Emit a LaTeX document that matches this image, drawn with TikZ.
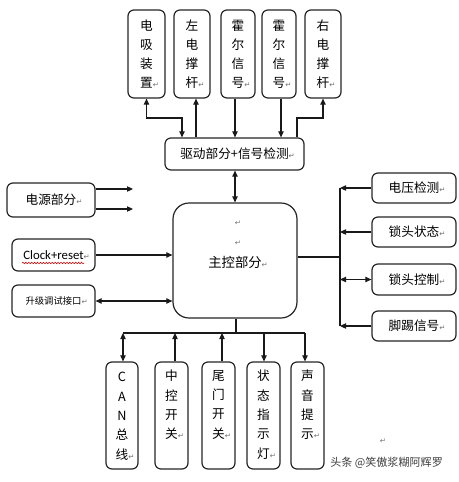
\documentclass[tikz,border=0pt]{standalone}
\usepackage{fontspec}
\setmainfont{Noto Sans CJK SC}
\newfontfamily\djv{DejaVu Sans}
\newfontfamily\carl{Carlito}
\usetikzlibrary{arrows.meta,decorations.pathmorphing}
\newcommand\retmark{\textcolor{black!55}{\djv\fontsize{5.5}{5.5}\selectfont ↵}}
\newcommand\rt{\rlap{\retmark}}
\begin{document}
\begin{tikzpicture}[x=0.75pt,y=-0.75pt,
  box/.style={draw=black!85, line width=0.9pt, rounded corners=4.5pt, inner sep=0pt,
    font=\fontsize{9.5}{14.25}\selectfont, align=center},
  txt/.style={inner sep=0pt, font=\fontsize{9.5}{14.5}\selectfont, align=center},
  conn/.style={draw=black!90, line width=0.8pt},
  arr/.style={conn, -{Triangle[length=4.5pt,width=4pt]}},
  darr/.style={conn, {Triangle[length=4.5pt,width=4pt]}-{Triangle[length=4.5pt,width=4pt]}}]
\useasboundingbox (0,0) rectangle (459,482);
\fill[white] (0,0) rectangle (459,482);

% top boxes
\node[box, minimum width=27.75pt, minimum height=66pt] (t1) at (146.5,54) {电\\吸\\装\\置\rt};
\node[box, minimum width=27pt, minimum height=66pt] (t2) at (192,54) {左\\电\\撑\\杆\rt};
\node[box, minimum width=25.5pt, minimum height=66pt] (t3) at (238,54) {霍\\尔\\信\\号\rt};
\node[box, minimum width=25.5pt, minimum height=66pt] (t4) at (279,54) {霍\\尔\\信\\号\rt};
\node[box, minimum width=27pt, minimum height=66pt] (t5) at (323,54) {右\\电\\撑\\杆\rt};

% driver
\node[box, minimum width=104.25pt, minimum height=24pt] (drv) at (234.5,154) {驱动部分+信号检测\rt};

% main
\node[box, rounded corners=12pt, minimum width=93pt, minimum height=86.25pt] (main) at (235,260.5) {};
\node[txt, font=\fontsize{10}{10}\selectfont] (mt) at (235,262) {主控部分\rt};
\node[inner sep=0pt] (m1) at (238,223) {\retmark};
\node[inner sep=0pt] (m2) at (238,243) {\retmark};

% left boxes
\node[box, minimum width=66pt, minimum height=25.5pt] (pwr) at (51,200) {电源部分\rt};
\node[box, minimum width=62.25pt, minimum height=24pt, font=\carl\fontsize{9.6}{9.6}\selectfont] (clk) at (53.5,255) {Clock+reset\rt};
\node[box, minimum width=62.25pt, minimum height=24pt, font=\fontsize{7}{7}\selectfont] (upg) at (53.5,301) {升级调试接口\rt};
\draw[red!85!black, line width=0.4pt, decorate, decoration={snake, amplitude=0.6pt, segment length=2.2pt}] (22,263) -- (84,263);

% right boxes
\node[box, minimum width=63pt, minimum height=22.5pt] (r1) at (414,188) {电压检测\rt};
\node[box, minimum width=63pt, minimum height=22.5pt] (r2) at (414,232) {锁头状态\rt};
\node[box, minimum width=63pt, minimum height=23.25pt] (r3) at (414,279.5) {锁头控制\rt};
\node[box, minimum width=63pt, minimum height=22.5pt] (r4) at (414,326) {脚踢信号\rt};

% bottom boxes
\node[box, minimum width=24pt, minimum height=80.25pt] (c1) at (122,415.5) {};
\node[box, minimum width=24.75pt, minimum height=80.25pt] (c2) at (171.5,415.5) {};
\node[box, minimum width=24.75pt, minimum height=80.25pt] (c3) at (218.5,415.5) {};
\node[box, minimum width=24.75pt, minimum height=80.25pt] (c4) at (263.5,415.5) {};
\node[box, minimum width=24.75pt, minimum height=80.25pt] (c5) at (307.5,415.5) {};
\node[txt, anchor=north] (c1t) at (122,372) {C\\A\\N\\总\\线\rt};
\node[txt, anchor=north] (c2t) at (171.5,370) {中\\控\\开\\关\rt};
\node[txt, anchor=north] (c3t) at (218.5,370) {尾\\门\\开\\关\rt};
\node[txt, anchor=north] (c4t) at (263.5,370) {状\\态\\指\\示\\灯\rt};
\node[txt, anchor=north] (c5t) at (307.5,370) {声\\音\\提\\示\rt};

% watermark
\node[inner sep=0pt] (rm) at (383,441) {\retmark};
\node[anchor=west, inner sep=0pt, font=\fontsize{8.3}{8.3}\selectfont, text=black!75] (wm) at (330,463) {头条 @笑傲浆糊阿辉罗};

% coordinates
\coordinate (k1) at (182,118);
\coordinate (x2) at (196,0);
\coordinate (x3) at (235,0);
\coordinate (x4) at (281,0);
\coordinate (k5) at (297,118);
\coordinate (p1) at (133,189);
\coordinate (p2) at (133,209);
\coordinate (bus) at (340,257);
\coordinate (bb) at (236,333);
\coordinate (b1) at (123,333);
\coordinate (b2) at (175,333);
\coordinate (b3) at (222,333);
\coordinate (b4) at (264,333);
\coordinate (b5) at (305,333);

% top connectors
\draw[darr] (t1.south) |- (k1) -- (k1 |- drv.north);
\draw[arr] (drv.north -| x2) -- (t2.south -| x2);
\draw[arr] (t3.south -| x3) -- (drv.north -| x3);
\draw[arr] (t4.south -| x4) -- (drv.north -| x4);
\draw[arr] (drv.north -| k5) -- (k5) -| (t5.south);
\draw[darr] (drv.south -| x3) -- (main.north -| x3);

% left connectors
\draw[arr] (pwr.east |- p1) -- (p1);
\draw[arr] (pwr.east |- p2) -- (p2);
\draw[arr] (clk.east) -- (main.west |- clk.east);
\draw[darr] (upg.east) -- (main.west |- upg.east);

% right connectors
\draw[conn] (main.east |- bus) -- (bus);
\draw[conn] (r1.west -| bus) -- (r4.west -| bus);
\draw[arr] (r1.west) -- (r1.west -| bus);
\draw[arr] (r2.west) -- (r2.west -| bus);
\draw[darr] (r3.west) -- (r3.west -| bus);
\draw[arr] (r4.west) -- (r4.west -| bus);

% bottom connectors
\draw[conn] (main.south -| bb) -- (bb);
\draw[conn] (b1) -- (b5);
\draw[darr] (b1) -- (c1.north -| b1);
\draw[arr] (c2.north -| b2) -- (b2);
\draw[arr] (c3.north -| b3) -- (b3);
\draw[arr] (b4) -- (c4.north -| b4);
\draw[arr] (b5) -- (c5.north -| b5);
\end{tikzpicture}
\end{document}
